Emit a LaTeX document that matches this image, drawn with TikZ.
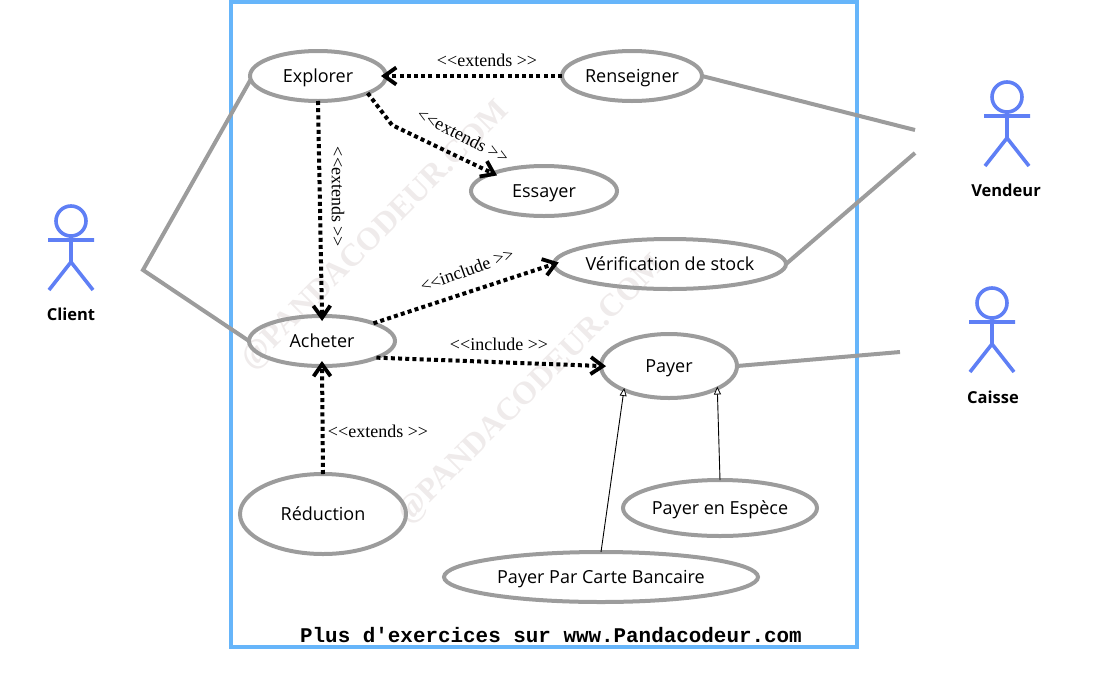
\documentclass[tikz,border=0pt]{standalone}
\usepackage{fontspec}
\setmainfont{Open Sans}
\newfontfamily\labelfont{Liberation Serif}
\newfontfamily\footerfont{Liberation Mono}
\usetikzlibrary{arrows.meta,shapes.geometric}
\definecolor{framesky}{HTML}{66B5FA}
\definecolor{actorblue}{HTML}{5F7FF5}
\definecolor{casegray}{HTML}{9C9C9C}
\definecolor{markgray}{HTML}{EFEBEB}
\begin{document}
\begin{tikzpicture}[
  x=1pt, y=-1pt,
  font=\fontsize{18}{20}\selectfont,
  usecase/.style={draw=casegray, line width=4pt, ellipse, inner ysep=0pt, inner xsep=-10pt, outer sep=0pt, text depth=0pt, fill=none},
  assoc/.style={draw=casegray, line width=4pt},
  dep/.style={draw=black, line width=4pt, dash pattern=on 4pt off 3.2pt, shorten >=-5pt,
              -{Straight Barb[length=12pt,width=17pt,line width=3.8pt,sep=0pt]}},
  gener/.style={draw=black, line width=0.9pt, shorten >=-2pt, -{Triangle[open,fill=white,length=8pt,width=7pt,line width=0.8pt]}},
  stereo/.style={font=\labelfont\fontsize{18}{20}\selectfont, inner sep=0pt},
  who/.style={font=\bfseries\fontsize{16.5}{20}\selectfont, inner sep=0pt},
  wmark/.style={font=\labelfont\bfseries\fontsize{32}{36}\selectfont, text=markgray, rotate=45, inner sep=0pt},
  actor/.pic={
    \draw[actorblue, line width=3.6pt] (0,0) circle (15);
    \draw[actorblue, line width=3.6pt] (0,15) -- (0,41) (-23,19) -- (23,19)
      (-22,69) -- (0,41) -- (22,69);
  },
]
\useasboundingbox (0,0) rectangle (1103,694);
\node[wmark] (markone) at (376,236) {@PANDACODEUR.COM};
\node[wmark] (marktwo) at (532,390) {@PANDACODEUR.COM};
\node[draw=framesky, line width=4pt, inner sep=0pt, minimum width=626pt, minimum height=645pt] (frame) at (544,324.5) {};
\node[usecase, minimum width=136pt, minimum height=50pt] (explorer) at (318,76) {Explorer};
\node[usecase, minimum width=140pt, minimum height=50pt] (renseigner) at (632,76) {Renseigner};
\node[usecase, minimum width=146pt, minimum height=50pt] (essayer) at (544,191) {Essayer};
\node[usecase, minimum width=232pt, minimum height=50pt] (verif) at (670,264) {Vérification de stock};
\node[usecase, minimum width=146pt, minimum height=50pt] (acheter) at (322,341) {Acheter};
\node[usecase, minimum width=136pt, minimum height=64pt] (payer) at (669,366) {Payer};
\node[usecase, minimum width=166pt, minimum height=80pt] (reduction) at (323,514) {Réduction};
\node[usecase, minimum width=194pt, minimum height=56pt] (espece) at (720,508) {Payer en Espèce};
\node[usecase, minimum width=314pt, minimum height=50pt] (carte) at (601,577) {Payer Par Carte Bancaire};
\coordinate (clientend) at (143,270);
\coordinate (vendeurtop) at (915,130);
\coordinate (vendeurlow) at (915,153);
\coordinate (caisseend) at (900,352);
\coordinate (essayerbend) at (392,125);
\draw[assoc] (explorer.183) -- (clientend) -- (acheter.west);
\draw[assoc] (renseigner.east) -- (vendeurtop);
\draw[assoc] (verif.east) -- (vendeurlow);
\draw[assoc] (payer.east) -- (caisseend);
\draw[dep] (renseigner.west) -- (explorer.east);
\draw[dep] (explorer.south) -- (acheter.north);
\draw[dep] (explorer.-19.5) -- (essayerbend) -- (essayer.161);
\draw[dep] (acheter.19.4) -- (verif.west);
\draw[dep] (acheter.-17) -- (payer.west);
\draw[dep] (reduction.north) -- (acheter.south);
\draw[gener] (carte.north) -- (payer.208);
\draw[gener] (espece.north) -- (payer.-25);
\node[stereo] (extendsa) at (487,60) {<<extends >>};
\node[stereo, rotate=-27] (extendsb) at (463,136) {<<extends >>};
\node[stereo, rotate=-90] (extendsc) at (338,197) {<<extends >>};
\node[stereo, rotate=20] (includea) at (467,270) {<<include >>};
\node[stereo] (includeb) at (499,344) {<<include >>};
\node[stereo] (extendsd) at (378,431) {<<extends >>};
\pic at (71,221) {actor};
\pic at (1007,97) {actor};
\pic at (992,303) {actor};
\node[who] (client) at (71,314) {Client};
\node[who] (vendeur) at (1006,190) {Vendeur};
\node[who] (caisse) at (993,397) {Caisse};
\node[font=\footerfont\bfseries\fontsize{20.9}{22}\selectfont, inner sep=0pt] (footer) at (551,635) {Plus d'exercices sur www.Pandacodeur.com};
\end{tikzpicture}
\end{document}
